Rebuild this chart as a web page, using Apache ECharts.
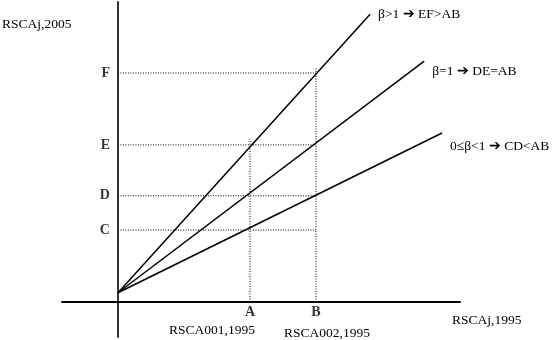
<!DOCTYPE html>
<html>
<head>
<meta charset="utf-8">
<script src="https://cdn.jsdelivr.net/npm/echarts@6/dist/echarts.min.js"></script>
<style>
  html, body { margin: 0; padding: 0; background: #fff; }
  #chart { width: 552px; height: 340px; }
</style>
</head>
<body>
<div id="chart"></div>
<script>
// RSCA 1995 on x, RSCA 2005 on y (arbitrary units, A = 2, B = 3)
const intercept = 0.14;
const lineEndX = [3.82, 4.64, 4.91];
const lineEndY = [4.36, 3.65, 2.56];
const lineLabels = ["β>1 ➔ EF>AB", "β=1 ➔ DE=AB", "0≤β<1 ➔ CD<AB"];
const lineLabelOffsets = [[0, 0], [0, 10], [0, 13]];

const xNames = ["A", "B"];
const xValues = [2, 3];
const xGuideTop = [2.47, 3.56];

const yNames = ["C", "D", "E", "F"];
const yValues = [1.09, 1.61, 2.38, 3.47];

const serif = "'Liberation Serif', 'Times New Roman', serif";

const chart = echarts.init(document.getElementById("chart"));

const series = [];

// beta lines from the common intercept
lineEndX.forEach((ex, i) => {
  series.push({
    type: "line",
    data: [[0, intercept], [ex, lineEndY[i]]],
    symbol: "none",
    lineStyle: { color: "#000", width: 1.5 },
    endLabel: {
      show: true,
      formatter: lineLabels[i],
      color: "#000",
      fontFamily: serif,
      fontSize: 13.5,
      distance: 8,
      offset: lineLabelOffsets[i],
    },
    z: 3,
  });
});

// dotted guides: horizontal ones run to B
const dotted = { color: "#000", width: 1, type: [1, 1.5] };
yValues.forEach((v) => {
  series.push({
    type: "line",
    data: [[0, v], [xValues[1], v]],
    symbol: "none",
    lineStyle: dotted,
    z: 2,
  });
});
xValues.forEach((v, i) => {
  series.push({
    type: "line",
    data: [[v, 0], [v, xGuideTop[i]]],
    symbol: "none",
    lineStyle: dotted,
    z: 2,
  });
});

// letter labels
series.push({
  type: "scatter",
  symbolSize: 0,
  data: yValues.map((v, i) => ({ value: [0, v], name: yNames[i] })),
  label: {
    show: true,
    position: "left",
    distance: 8,
    formatter: "{b}",
    color: "#000",
    fontFamily: serif,
    fontWeight: "bold",
    fontSize: 14,
  },
  silent: true,
});
series.push({
  type: "scatter",
  symbolSize: 0,
  data: xValues.map((v, i) => ({ value: [v, 0], name: xNames[i] })),
  label: {
    show: true,
    position: "bottom",
    distance: 3,
    formatter: "{b}",
    color: "#000",
    fontFamily: serif,
    fontWeight: "bold",
    fontSize: 14,
  },
  silent: true,
});

const textStyle = { fill: "#000", font: "13.5px " + serif };

chart.setOption({
  animation: false,
  grid: { left: 62, right: 92, top: 2, bottom: 3 },
  xAxis: {
    type: "value",
    min: -0.848,
    max: 5.182,
    axisLine: { show: true, onZero: true, lineStyle: { color: "#000", width: 2 } },
    axisTick: { show: false },
    axisLabel: { show: false },
    splitLine: { show: false },
  },
  yAxis: {
    type: "value",
    min: -0.53,
    max: 4.545,
    axisLine: { show: true, onZero: true, lineStyle: { color: "#333", width: 2 } },
    axisTick: { show: false },
    axisLabel: { show: false },
    splitLine: { show: false },
  },
  graphic: [
    { type: "text", x: 2, y: 24, style: Object.assign({ text: "RSCAj,2005", textAlign: "left", textVerticalAlign: "middle" }, textStyle) },
    { type: "text", x: 452, y: 320, style: Object.assign({ text: "RSCAj,1995", textAlign: "left", textVerticalAlign: "middle" }, textStyle) },
    { type: "text", x: 212, y: 330, style: Object.assign({ text: "RSCA001,1995", textAlign: "center", textVerticalAlign: "middle" }, textStyle) },
    { type: "text", x: 327, y: 333, style: Object.assign({ text: "RSCA002,1995", textAlign: "center", textVerticalAlign: "middle" }, textStyle) },
  ],
  series: series,
});
</script>
</body>
</html>
